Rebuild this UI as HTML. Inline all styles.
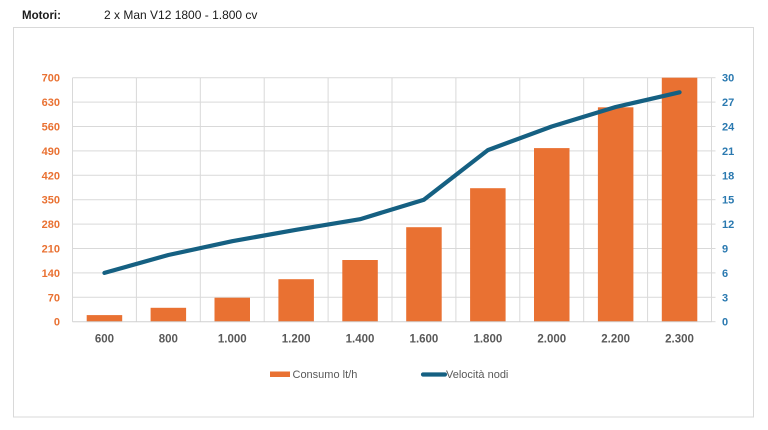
<!DOCTYPE html>
<html><head><meta charset="utf-8"><style>
html,body{margin:0;padding:0;background:#fff;}
svg{display:block;font-family:"Liberation Sans",sans-serif;}
</style></head><body>
<svg width="768" height="430" viewBox="0 0 768 430" xmlns="http://www.w3.org/2000/svg">
<text x="22" y="19" font-size="11.5" font-weight="bold" fill="#1a1a1a">Motori:</text>
<text x="104" y="19" font-size="12" fill="#1a1a1a">2 x Man V12 1800 - 1.800 cv</text>
<rect x="13.5" y="27.5" width="740" height="389.5" fill="#fff" stroke="#D9D9D9" stroke-width="1"/>
<g stroke="#D9D9D9" stroke-width="1">
<line x1="72.5" y1="77.7" x2="711.5" y2="77.7"/>
<line x1="72.5" y1="102.1" x2="711.5" y2="102.1"/>
<line x1="72.5" y1="126.5" x2="711.5" y2="126.5"/>
<line x1="72.5" y1="150.9" x2="711.5" y2="150.9"/>
<line x1="72.5" y1="175.3" x2="711.5" y2="175.3"/>
<line x1="72.5" y1="199.7" x2="711.5" y2="199.7"/>
<line x1="72.5" y1="224.1" x2="711.5" y2="224.1"/>
<line x1="72.5" y1="248.5" x2="711.5" y2="248.5"/>
<line x1="72.5" y1="272.9" x2="711.5" y2="272.9"/>
<line x1="72.5" y1="297.3" x2="711.5" y2="297.3"/>
<line x1="72.5" y1="77.7" x2="72.5" y2="321.7"/>
<line x1="136.4" y1="77.7" x2="136.4" y2="321.7"/>
<line x1="200.3" y1="77.7" x2="200.3" y2="321.7"/>
<line x1="264.2" y1="77.7" x2="264.2" y2="321.7"/>
<line x1="328.1" y1="77.7" x2="328.1" y2="321.7"/>
<line x1="392" y1="77.7" x2="392" y2="321.7"/>
<line x1="455.9" y1="77.7" x2="455.9" y2="321.7"/>
<line x1="519.8" y1="77.7" x2="519.8" y2="321.7"/>
<line x1="583.7" y1="77.7" x2="583.7" y2="321.7"/>
<line x1="647.6" y1="77.7" x2="647.6" y2="321.7"/>
<line x1="711.5" y1="77.7" x2="711.5" y2="321.7"/>
<line x1="711.5" y1="77.7" x2="715.5" y2="77.7"/>
<line x1="711.5" y1="102.1" x2="715.5" y2="102.1"/>
<line x1="711.5" y1="126.5" x2="715.5" y2="126.5"/>
<line x1="711.5" y1="150.9" x2="715.5" y2="150.9"/>
<line x1="711.5" y1="175.3" x2="715.5" y2="175.3"/>
<line x1="711.5" y1="199.7" x2="715.5" y2="199.7"/>
<line x1="711.5" y1="224.1" x2="715.5" y2="224.1"/>
<line x1="711.5" y1="248.5" x2="715.5" y2="248.5"/>
<line x1="711.5" y1="272.9" x2="715.5" y2="272.9"/>
<line x1="711.5" y1="297.3" x2="715.5" y2="297.3"/>
<line x1="711.5" y1="321.7" x2="715.5" y2="321.7"/>
</g>
<g fill="#E97132">
<rect x="86.7" y="315.1" width="35.5" height="6.6"/>
<rect x="150.6" y="307.8" width="35.5" height="13.9"/>
<rect x="214.5" y="297.7" width="35.5" height="24"/>
<rect x="278.4" y="279.2" width="35.5" height="42.5"/>
<rect x="342.3" y="260" width="35.5" height="61.7"/>
<rect x="406.2" y="227.2" width="35.5" height="94.5"/>
<rect x="470.1" y="188.2" width="35.5" height="133.5"/>
<rect x="534" y="148.1" width="35.5" height="173.6"/>
<rect x="597.9" y="107.3" width="35.5" height="214.4"/>
<rect x="661.8" y="77.7" width="35.5" height="244"/>
</g>
<line x1="72.5" y1="321.7" x2="711.5" y2="321.7" stroke="#D0D0D0" stroke-width="1"/>
<polyline points="104.45,272.9 168.35,255 232.25,241.2 296.15,229.8 360.05,219.2 423.95,199.7 487.85,150.1 551.75,126.5 615.65,107 679.55,92.3" fill="none" stroke="#156082" stroke-width="4.2" stroke-linecap="round" stroke-linejoin="round"/>
<g font-size="11" font-weight="bold" fill="#E97132" text-anchor="end">
<text x="60" y="81.7">700</text>
<text x="60" y="106.1">630</text>
<text x="60" y="130.5">560</text>
<text x="60" y="154.9">490</text>
<text x="60" y="179.3">420</text>
<text x="60" y="203.7">350</text>
<text x="60" y="228.1">280</text>
<text x="60" y="252.5">210</text>
<text x="60" y="276.9">140</text>
<text x="60" y="301.3">70</text>
<text x="60" y="325.7">0</text>
</g>
<g font-size="11" font-weight="bold" fill="#2A79B0">
<text x="722" y="81.7">30</text>
<text x="722" y="106.1">27</text>
<text x="722" y="130.5">24</text>
<text x="722" y="154.9">21</text>
<text x="722" y="179.3">18</text>
<text x="722" y="203.7">15</text>
<text x="722" y="228.1">12</text>
<text x="722" y="252.5">9</text>
<text x="722" y="276.9">6</text>
<text x="722" y="301.3">3</text>
<text x="722" y="325.7">0</text>
</g>
<g font-size="11.5" font-weight="bold" fill="#595959" text-anchor="middle">
<text x="104.45" y="342.5">600</text>
<text x="168.35" y="342.5">800</text>
<text x="232.25" y="342.5">1.000</text>
<text x="296.15" y="342.5">1.200</text>
<text x="360.05" y="342.5">1.400</text>
<text x="423.95" y="342.5">1.600</text>
<text x="487.85" y="342.5">1.800</text>
<text x="551.75" y="342.5">2.000</text>
<text x="615.65" y="342.5">2.200</text>
<text x="679.55" y="342.5">2.300</text>
</g>
<rect x="270" y="371.5" width="20" height="5.5" fill="#E97132"/>
<text x="292.5" y="378" font-size="11" fill="#595959">Consumo lt/h</text>
<line x1="423" y1="374.5" x2="445" y2="374.5" stroke="#156082" stroke-width="4.2" stroke-linecap="round"/>
<text x="446" y="378" font-size="11" fill="#595959">Velocità nodi</text>
</svg>
</body></html>
